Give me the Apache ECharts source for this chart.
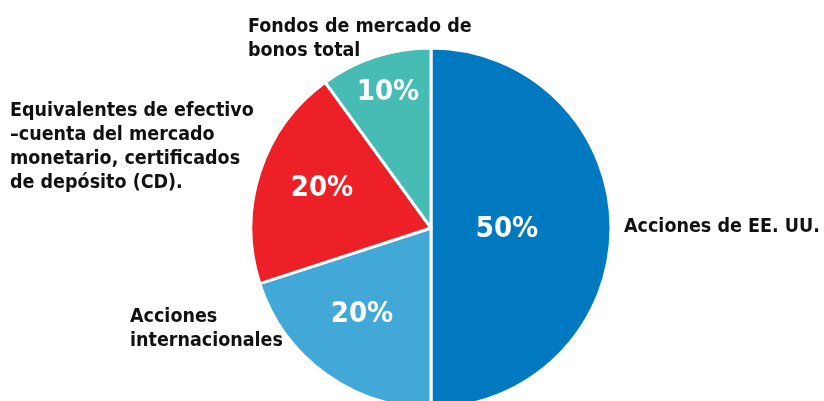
<!DOCTYPE html>
<html>
<head>
<meta charset="utf-8">
<script src="https://cdn.jsdelivr.net/npm/echarts@6/dist/echarts.min.js"></script>
<style>
  html, body { margin: 0; padding: 0; background: #fff; }
  #main { width: 824px; height: 401px; }
</style>
</head>
<body>
<div id="main"></div>
<script>
// datos del gráfico
var categories = [
  'Acciones de EE. UU.',
  'Acciones\ninternacionales',
  'Equivalentes de efectivo\n\u2013cuenta del mercado\nmonetario, certificados\nde dep\u00f3sito (CD).',
  'Fondos de mercado de\nbonos total'
];
var values = [50, 20, 20, 10];
var colors = ['#0079c1', '#41a8d7', '#ed1f27', '#46bcb5'];

// posiciones de las etiquetas (layout)
var valuePos = [[507, 229], [362, 314], [322, 188], [388, 92]];
var namePos = [[624, 215], [130, 305], [10, 99], [248, 15]];

var font = '"Liberation Sans Narrow", "DejaVu Sans Condensed", sans-serif';

var chart = echarts.init(document.getElementById('main'));

var pieData = values.map(function (v, i) {
  return { name: categories[i], value: v, itemStyle: { color: colors[i] } };
});

var option = {
  animation: false,
  series: [{
    type: 'pie',
    center: [431, 228],
    radius: 180,
    startAngle: 90,
    clockwise: true,
    data: pieData,
    itemStyle: { borderColor: '#fff', borderWidth: 3 },
    label: {
      position: 'inside',
      formatter: '{c}%',
      color: '#fff',
      fontFamily: font,
      fontWeight: 'bold',
      fontSize: 29
    },
    labelLine: { show: false },
    labelLayout: function (params) {
      var p = valuePos[params.dataIndex];
      return { x: p[0], y: p[1], align: 'center', verticalAlign: 'middle' };
    },
    emphasis: { disabled: true }
  }],
  graphic: categories.map(function (c, i) {
    return {
      type: 'text',
      left: namePos[i][0],
      top: namePos[i][1],
      style: {
        text: c,
        fill: '#111',
        font: 'bold 19.5px ' + font,
        lineHeight: 24
      }
    };
  })
};
chart.setOption(option);
</script>
</body>
</html>
